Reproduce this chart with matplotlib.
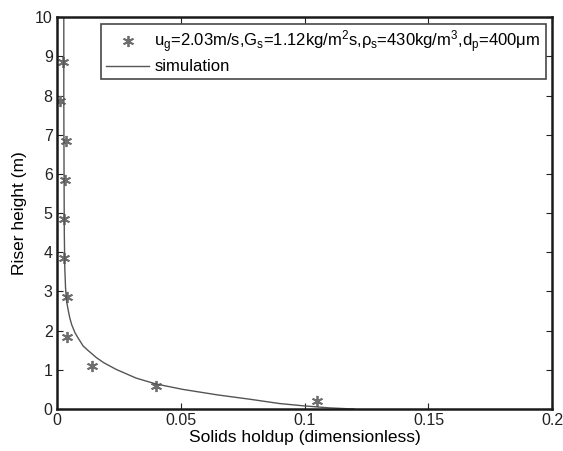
import matplotlib
matplotlib.use("Agg")
import matplotlib.pyplot as plt

plt.rcParams['font.family'] = ['Liberation Sans', 'DejaVu Sans']
plt.rcParams['mathtext.fontset'] = 'custom'
plt.rcParams['mathtext.rm'] = 'Liberation Sans'
plt.rcParams['mathtext.it'] = 'Liberation Sans'
plt.rcParams['mathtext.sf'] = 'Liberation Sans'

# Measured solids holdup along the riser
exp_holdup = [0.105, 0.040, 0.014, 0.004, 0.004, 0.003, 0.003, 0.0032, 0.0035, 0.0013, 0.0024]
exp_height = [0.20, 0.60, 1.10, 1.85, 2.85, 3.85, 4.85, 5.85, 6.85, 7.85, 8.85]

# Simulated holdup profile
sim_holdup = [0.120, 0.110, 0.100, 0.090, 0.078, 0.065, 0.051, 0.040, 0.032, 0.024,
              0.019, 0.016, 0.0125, 0.0106, 0.0085, 0.0073, 0.0060, 0.0052, 0.0045,
              0.0039, 0.0035, 0.0032, 0.0030, 0.0029, 0.0028, 0.0028]
sim_height = [0.0, 0.03, 0.08, 0.14, 0.25, 0.36, 0.50, 0.64, 0.79, 1.01,
              1.18, 1.31, 1.50, 1.61, 1.82, 1.95, 2.15, 2.33, 2.55,
              2.76, 3.10, 3.60, 4.50, 6.00, 8.00, 10.0]

x_ticks = [0, 0.05, 0.1, 0.15, 0.2]
x_tick_labels = ['0', '0.05', '0.1', '0.15', '0.2']
y_ticks = list(range(0, 11))

fig = plt.figure(figsize=(5.63, 4.51), dpi=100)
ax = fig.add_axes([0.101, 0.093, 0.880, 0.869])

ax.plot(exp_holdup, exp_height, linestyle='none', marker=(6, 2, 0), markersize=8,
        markeredgewidth=1.3, color='#6e6e6e',
        label=r'u$_\mathrm{g}$=2.03m/s,G$_\mathrm{s}$=1.12kg/m$^\mathrm{2}$s,'
              r'$\rho_\mathrm{s}$=430kg/m$^\mathrm{3}$,d$_\mathrm{p}$=400$\mu$m')
ax.plot(sim_holdup, sim_height, color='#555555', linewidth=1.0, label='simulation')

ax.set_xlim(0, 0.2)
ax.set_ylim(0, 10)
ax.set_xticks(x_ticks)
ax.set_xticklabels(x_tick_labels)
ax.set_yticks(y_ticks)
ax.tick_params(direction='in', top=True, right=True, length=4, width=0.8,
               labelsize=11.5, pad=3, colors='#222222')
for s in ax.spines.values():
    s.set_linewidth(1.8)
    s.set_color('#1a1a1a')

ax.set_xlabel('Solids holdup (dimensionless)', fontsize=12.5, labelpad=1)
ax.set_ylabel('Riser height (m)', fontsize=12.5, labelpad=6)

leg = ax.legend(loc='upper right', fontsize=12, frameon=True, fancybox=False,
                borderaxespad=0.4, handlelength=2.6, borderpad=0.3,
                labelspacing=0.25, handletextpad=0.3)
leg.get_frame().set_edgecolor('#1a1a1a')
leg.get_frame().set_linewidth(1.2)

fig.savefig('out.png', dpi=100)
